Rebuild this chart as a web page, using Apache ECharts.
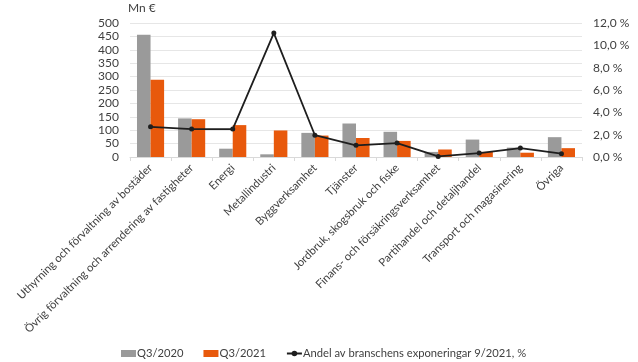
<!DOCTYPE html>
<html>
<head>
<meta charset="utf-8">
<script src="https://cdn.jsdelivr.net/npm/echarts@6/dist/echarts.min.js"></script>
<style>
  html, body { margin: 0; padding: 0; background: #fff; }
  #chart { width: 638px; height: 362px; }
</style>
</head>
<body>
<div id="chart"></div>
<script>
// Branscher
const categories = [
  'Uthyrning och förvaltning av bostäder',
  'Övrig förvaltning och arrendering av fastigheter',
  'Energi',
  'Metallindustri',
  'Byggverksamhet',
  'Tjänster',
  'Jordbruk, skogsbruk och fiske',
  'Finans- och försäkringsverksamhet',
  'Partihandel och detaljhandel',
  'Transport och magasinering',
  'Övriga'
];

// Mn €
const q2020 = [456, 144, 31, 10, 90, 125, 94, 19, 65, 35, 74];
const q2021 = [288, 141, 119, 99, 80, 71, 60, 28, 19, 16, 33];

// Andel av branschens exponeringar 9/2021, %
const share = [2.7, 2.5, 2.5, 11.1, 1.95, 1.05, 1.25, 0.05, 0.35, 0.8, 0.3];

const seriesNames = ['Q3/2020', 'Q3/2021', 'Andel av branschens exponeringar 9/2021, %'];

const textColor = '#3f3f3f';
const font = 'Lato';
const numSize = 12;
const textSize = 11.2;

const chart = echarts.init(document.getElementById('chart'));
chart.setOption({
  animation: false,
  textStyle: { fontFamily: font, color: textColor },
  grid: { left: 130, right: 56, top: 23, bottom: 205 },
  legend: {
    left: 116,
    bottom: -2,
    itemWidth: 15,
    itemHeight: 7,
    itemGap: 20,
    textStyle: { fontFamily: font, fontSize: textSize, color: textColor, padding: [0, 0, 0, -4] },
    data: [
      { name: seriesNames[0], icon: 'rect' },
      { name: seriesNames[1], icon: 'rect' },
      { name: seriesNames[2] }
    ]
  },
  xAxis: {
    type: 'category',
    data: categories,
    axisLine: { lineStyle: { color: '#d9d9d9' } },
    axisTick: { show: true, length: 4, lineStyle: { color: '#d9d9d9' } },
    axisLabel: {
      rotate: 45,
      interval: 0,
      margin: 9,
      fontFamily: font,
      fontSize: textSize,
      color: textColor
    }
  },
  yAxis: [
    {
      type: 'value',
      min: 0,
      max: 500,
      interval: 50,
      name: 'Mn €',
      nameLocation: 'end',
      nameGap: 9,
      nameTextStyle: { fontFamily: font, fontSize: numSize, color: textColor, align: 'left', padding: [0, 0, 0, -2] },
      axisLine: { show: false },
      axisTick: { show: false },
      axisLabel: { fontFamily: font, fontSize: numSize, color: textColor, margin: 11 },
      splitLine: { lineStyle: { color: '#e6e6e6' } }
    },
    {
      type: 'value',
      min: 0,
      max: 12,
      interval: 2,
      position: 'right',
      axisLine: { show: false },
      axisTick: { show: false },
      splitLine: { show: false },
      axisLabel: {
        fontFamily: font,
        fontSize: numSize,
        color: textColor,
        margin: 11,
        formatter: v => v.toFixed(1).replace('.', ',') + ' %'
      }
    }
  ],
  series: [
    {
      name: seriesNames[0],
      type: 'bar',
      data: q2020,
      barGap: '0%',
      barCategoryGap: '34%',
      itemStyle: { color: '#9a9a9a' }
    },
    {
      name: seriesNames[1],
      type: 'bar',
      data: q2021,
      itemStyle: { color: '#e8590c' }
    },
    {
      name: seriesNames[2],
      type: 'line',
      yAxisIndex: 1,
      data: share,
      symbol: 'circle',
      symbolSize: 5,
      lineStyle: { color: '#1e1e1e', width: 1.8 },
      itemStyle: { color: '#1e1e1e' },
      z: 5
    }
  ]
});
</script>
</body>
</html>
